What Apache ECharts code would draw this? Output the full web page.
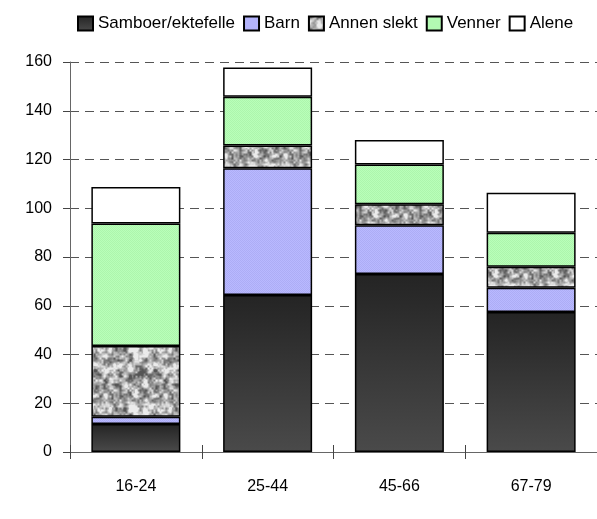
<!DOCTYPE html>
<html>
<head>
<meta charset="utf-8">
<script src="https://cdn.jsdelivr.net/npm/echarts@6/dist/echarts.min.js"></script>
<style>
html,body{margin:0;padding:0;background:#fff;}
#chart{width:597px;height:519px;}
</style>
</head>
<body>
<div id="chart"></div>
<script>
// ---- data ----
const categories = ['16-24', '25-44', '45-66', '67-79'];
const seriesNames = ['Samboer/ektefelle', 'Barn', 'Annen slekt', 'Venner', 'Alene'];
const samboer = [11.5, 64.4, 73.0, 57.4];
const barn = [3.0, 52.0, 20.0, 10.0];
const annenSlekt = [29.0, 9.3, 8.6, 8.6];
const venner = [50.2, 20.0, 16.4, 14.0];
const alene = [15.0, 12.0, 10.0, 16.4];
const yTicks = [0, 20, 40, 60, 80, 100, 120, 140, 160];

// ---- textures (styling only) ----
function hash(x, y) {
  let h = Math.imul(x, 374761393) + Math.imul(y, 668265263);
  h = Math.imul(h ^ (h >>> 13), 1274126177);
  h = h ^ (h >>> 16);
  return (h >>> 0) / 4294967295;
}
function granite() {
  const N = 60, c = document.createElement('canvas');
  c.width = N; c.height = N;
  const ctx = c.getContext('2d');
  const img = ctx.createImageData(N, N);
  function vnoise(x, y, cell, period, seed) {
    const gx = x / cell, gy = y / cell;
    const x0 = Math.floor(gx), y0 = Math.floor(gy);
    const fx = gx - x0, fy = gy - y0;
    const p = (a, b) => hash(((a % period) + period) % period + seed, ((b % period) + period) % period + seed * 7);
    const a = p(x0, y0), b = p(x0 + 1, y0), c2 = p(x0, y0 + 1), d = p(x0 + 1, y0 + 1);
    const sx = fx * fx * (3 - 2 * fx), sy = fy * fy * (3 - 2 * fy);
    return (a * (1 - sx) + b * sx) * (1 - sy) + (c2 * (1 - sx) + d * sx) * sy;
  }
  for (let y = 0; y < N; y++) {
    for (let x = 0; x < N; x++) {
      let v = 0.65 * vnoise(x, y, 5, 12, 11) + 0.35 * vnoise(x, y, 2, 30, 3);
      v = Math.min(1, Math.max(0, (v - 0.5) * 1.9 + 0.6));
      const g = Math.round(85 + 150 * v);
      const i = (y * N + x) * 4;
      img.data[i] = g; img.data[i + 1] = g; img.data[i + 2] = g; img.data[i + 3] = 255;
    }
  }
  ctx.putImageData(img, 0, 0);
  return c;
}
function dots(c1, c2) {
  const c = document.createElement('canvas');
  c.width = 2; c.height = 2;
  const ctx = c.getContext('2d');
  ctx.fillStyle = c1; ctx.fillRect(0, 0, 2, 2);
  ctx.fillStyle = c2; ctx.fillRect(0, 0, 1, 1); ctx.fillRect(1, 1, 1, 1);
  return c;
}

const fills = [
  { type: 'linear', x: 0, y: 0, x2: 0, y2: 1, colorStops: [{ offset: 0, color: '#242424' }, { offset: 1, color: '#4a4a4a' }] },
  { image: dots('#b9b9ff', '#adadf5'), repeat: 'repeat' },
  { image: granite(), repeat: 'repeat' },
  { image: dots('#b9ffb9', '#adf5ad'), repeat: 'repeat' },
  '#ffffff'
];
const values = [samboer, barn, annenSlekt, venner, alene];

const chart = echarts.init(document.getElementById('chart'), null, { renderer: 'canvas' });
const font = 'Liberation Sans, Arial, sans-serif';

chart.setOption({
  animation: false,
  backgroundColor: '#ffffff',
  legend: {
    data: seriesNames,
    left: 72,
    top: 10,
    itemWidth: 15,
    itemHeight: 14,
    itemGap: 8,
    icon: 'rect',
    textStyle: { fontFamily: font, fontSize: 17, color: '#000' }
  },
  grid: { left: 70, right: -1, top: 62, bottom: 67, containLabel: false },
  xAxis: [{
    type: 'category',
    data: categories,
    axisLine: { lineStyle: { color: '#666', width: 1 } },
    axisTick: { show: true, length: 7, lineStyle: { color: '#444' } },
    axisLabel: { margin: 27, fontFamily: font, fontSize: 16, color: '#000' }
  }, {
    type: 'category',
    data: categories,
    position: 'bottom',
    axisLine: { show: false },
    axisTick: { show: true, inside: true, length: 7, lineStyle: { color: '#444' } },
    axisLabel: { show: false }
  }],
  yAxis: {
    type: 'value',
    min: yTicks[0],
    max: yTicks[yTicks.length - 1],
    interval: 20,
    axisLine: { show: true, lineStyle: { color: '#666', width: 1 } },
    axisTick: { show: true, length: 7, lineStyle: { color: '#444' } },
    axisLabel: { margin: 18, fontFamily: font, fontSize: 16, color: '#000' },
    splitLine: { show: true, lineStyle: { color: '#555', type: [9, 6], width: 1 } }
  },
  series: seriesNames.map((name, i) => ({
    name: name,
    type: 'bar',
    stack: 'total',
    barWidth: 89,
    data: values[i],
    itemStyle: { color: fills[i], borderColor: '#000', borderWidth: 1.5 }
  }))
});
</script>
</body>
</html>
